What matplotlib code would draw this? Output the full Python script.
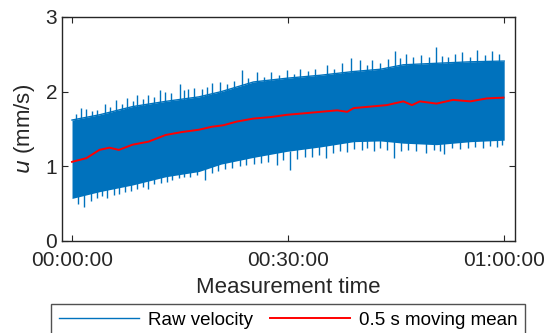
import matplotlib
matplotlib.use("Agg")
import matplotlib.pyplot as plt
from matplotlib.ticker import FuncFormatter

# time in minutes, velocity in mm/s
# dense part of the raw-velocity band
band_t = [0, 3.8, 8.4, 13.0, 17.6, 20.7, 25.2, 29.8, 34.5, 39.1, 42.8, 46.0, 50.6, 55.3, 60]
band_upper = [1.62, 1.69, 1.80, 1.87, 1.93, 2.00, 2.13, 2.18, 2.22, 2.27, 2.30, 2.36, 2.38, 2.40, 2.41]
band_lower = [0.57, 0.66, 0.75, 0.86, 0.93, 1.03, 1.12, 1.20, 1.26, 1.33, 1.34, 1.31, 1.29, 1.33, 1.35]

# peaks sticking out above / below the band
spike_up_t = [0.6, 1.3, 2.0, 2.8, 3.5, 4.6, 5.3, 6.1, 6.9, 7.7, 8.4, 9.0, 9.8, 10.6, 11.4, 12.2, 12.9,
              13.7, 15.0, 15.6, 16.1, 17.0, 18.0, 18.7, 19.4, 20.5, 21.5, 22.5, 23.6, 24.5, 25.7, 26.6,
              27.6, 28.7, 29.8, 30.8, 31.7, 32.8, 33.8, 35.4, 36.4, 37.5, 38.7, 40.0, 41.0, 41.7, 42.7,
              43.8, 44.8, 45.6, 46.4, 47.4, 48.5, 49.5, 50.6, 51.4, 52.2, 53.2, 54.1, 55.2, 56.2, 57.4,
              58.3, 59.3]
spike_up_v = [1.70, 1.78, 1.77, 1.74, 1.76, 1.84, 1.80, 1.89, 1.84, 1.91, 1.87, 1.96, 1.90, 1.95, 1.93,
              2.02, 2.00, 1.98, 2.10, 2.02, 2.03, 2.05, 2.04, 2.06, 2.11, 2.13, 2.10, 2.14, 2.29, 2.18,
              2.27, 2.20, 2.27, 2.22, 2.29, 2.24, 2.31, 2.28, 2.30, 2.36, 2.31, 2.38, 2.45, 2.43, 2.36,
              2.43, 2.38, 2.44, 2.54, 2.45, 2.50, 2.46, 2.49, 2.46, 2.60, 2.48, 2.47, 2.50, 2.53, 2.47,
              2.56, 2.49, 2.54, 2.50]
spike_lo_t = [0.8, 1.7, 2.6, 3.4, 4.2, 4.9, 5.8, 6.5, 7.4, 8.2, 9.0, 9.8, 10.5, 11.4, 12.3, 13.2, 13.9,
              14.8, 15.6, 16.4, 17.4, 18.5, 19.4, 20.3, 21.2, 22.2, 23.3, 24.2, 25.2, 26.2, 27.2, 28.4,
              29.3, 30.3, 31.3, 32.3, 33.3, 34.3, 35.2, 36.2, 37.2, 38.2, 39.2, 40.2, 41.0, 41.9, 42.8,
              43.7, 44.7, 45.7, 46.7, 47.8, 49.1, 50.2, 51.1, 51.7, 52.8, 53.8, 55.0, 56.0, 57.0, 58.0,
              59.0, 59.7]
spike_lo_v = [0.50, 0.46, 0.53, 0.58, 0.60, 0.57, 0.62, 0.63, 0.66, 0.67, 0.70, 0.72, 0.70, 0.76, 0.78,
              0.79, 0.82, 0.84, 0.86, 0.86, 0.89, 0.82, 0.91, 0.94, 0.96, 0.98, 1.00, 1.02, 1.03, 1.05,
              1.06, 1.02, 1.08, 0.95, 1.10, 1.12, 1.13, 1.15, 1.11, 1.18, 1.20, 1.19, 1.23, 1.22, 1.25,
              1.20, 1.24, 1.22, 1.11, 1.21, 1.22, 1.20, 1.18, 1.22, 1.20, 1.17, 1.24, 1.23, 1.25, 1.26,
              1.24, 1.27, 1.26, 1.29]

# 0.5 s moving mean
mean_t = [0, 2.0, 3.8, 5.2, 6.5, 8.4, 10.6, 13.0, 15.3, 17.6, 19.4, 21.0, 22.9, 25.2, 27.6, 29.8, 32.2,
          34.5, 36.8, 38.2, 39.1, 41.4, 43.7, 46.0, 47.2, 48.3, 50.6, 52.9, 55.3, 57.6, 59.9]
mean_v = [1.06, 1.11, 1.22, 1.25, 1.22, 1.29, 1.33, 1.42, 1.46, 1.49, 1.53, 1.55, 1.60, 1.64, 1.66,
          1.69, 1.71, 1.73, 1.75, 1.73, 1.78, 1.80, 1.82, 1.87, 1.82, 1.87, 1.84, 1.89, 1.87, 1.91, 1.92]

blue = "#0072BD"
dark = "#262626"
plt.rcParams["font.family"] = ["Liberation Sans", "DejaVu Sans"]

fig = plt.figure(figsize=(5.47, 3.33), dpi=100)
ax = fig.add_axes([62/547, 1-241/333, 453/547, 224/333])

ax.fill_between(band_t, band_lower, band_upper, color=blue, lw=0)
ax.vlines(spike_up_t, [v - 0.25 for v in spike_up_v], spike_up_v, color=blue, lw=1)
ax.vlines(spike_lo_t, spike_lo_v, [v + 0.25 for v in spike_lo_v], color=blue, lw=1)
ax.plot(band_t, band_upper, color=blue, lw=1, label="Raw velocity")
ax.plot(mean_t, mean_v, color="#FF0000", lw=1.4, label="0.5 s moving mean")

ax.set_xlim(-1.39, 61.5)
ax.set_ylim(0, 3)
ax.set_xticks([0, 30, 60])
ax.set_yticks([0, 1, 2, 3])
ax.xaxis.set_major_formatter(FuncFormatter(lambda m, p: "%02d:%02d:00" % (int(m) // 60, int(m) % 60)))
ax.tick_params(direction="in", top=True, right=True, labelsize=15, length=4, color=dark,
               labelcolor=dark)
ax.tick_params(axis="x", pad=7)
for s in ax.spines.values():
    s.set_color(dark)
    s.set_linewidth(1)
ax.set_xlabel("Measurement time", fontsize=16, color=dark, labelpad=5)
ax.set_ylabel(r"$\it{u}$ (mm/s)", fontsize=16, color=dark, labelpad=6)

leg = fig.legend(loc="upper left", bbox_to_anchor=(51/547, 1-304/333 - 0.01, 474/547, 0.01),
                 mode="expand", ncol=2, fontsize=13.5, frameon=True, fancybox=False, edgecolor=dark,
                 handlelength=4.3, handletextpad=0.45, borderaxespad=0, borderpad=0.4)
leg.get_frame().set_linewidth(1)

fig.savefig("out.png", dpi=100)
